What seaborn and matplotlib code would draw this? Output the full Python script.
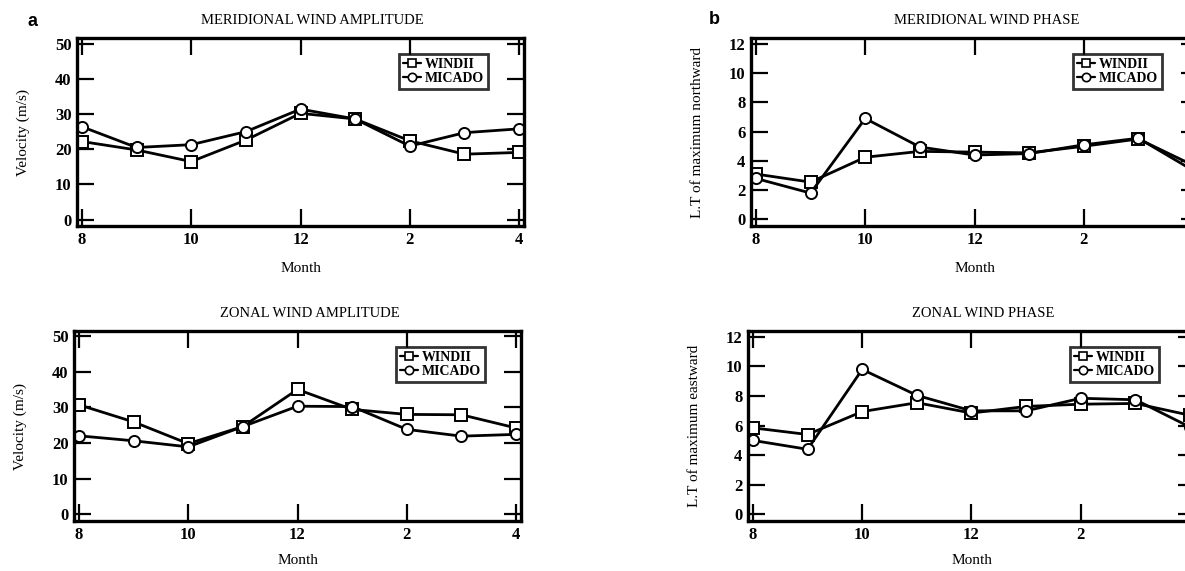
import numpy as np
import pandas as pd
import matplotlib
matplotlib.use("Agg")
import matplotlib.pyplot as plt
import seaborn as sns
from matplotlib.lines import Line2D

# ---------------- data ----------------
months = ["8", "9", "10", "11", "12", "1", "2", "3", "4"]
tick_labels = ["8", "10", "12", "2", "4"]
series_names = ["WINDII", "MICADO"]

mer_amp_windii = [22.2, 19.8, 16.5, 22.6, 30.2, 28.6, 22.4, 18.6, 19.1]
mer_amp_micado = [26.4, 20.5, 21.3, 25.0, 31.4, 28.6, 20.9, 24.7, 25.8]
zon_amp_windii = [30.7, 25.9, 19.8, 24.6, 35.0, 29.4, 28.0, 27.9, 24.2]
zon_amp_micado = [22.0, 20.6, 18.9, 24.6, 30.3, 30.2, 23.8, 21.9, 22.4]
mer_ph_windii = [3.1, 2.55, 4.25, 4.65, 4.6, 4.55, 5.0, 5.5, 3.7]
mer_ph_micado = [2.8, 1.8, 6.9, 4.95, 4.4, 4.5, 5.1, 5.55, 3.35]
zon_ph_windii = [5.85, 5.4, 6.95, 7.55, 6.85, 7.3, 7.45, 7.5, 6.7]
zon_ph_micado = [5.0, 4.4, 9.8, 8.05, 7.0, 7.0, 7.85, 7.75, 5.9]

amp_yticks = [0, 10, 20, 30, 40, 50]
ph_yticks = [0, 2, 4, 6, 8, 10, 12]

# ---------------- style ----------------
sns.set_theme(style="ticks")
plt.rcParams["font.family"] = ["Liberation Serif", "DejaVu Serif"]
plt.rcParams["axes.edgecolor"] = "black"
plt.rcParams["text.color"] = "black"
plt.rcParams["axes.labelcolor"] = "black"

W, H = 1185, 571
fig = plt.figure(figsize=(W / 100, H / 100), dpi=100)


def px_axes(left, top, right, bottom):
    return fig.add_axes([left / W, 1 - bottom / H, (right - left) / W, (bottom - top) / H])


panels = [
    dict(box=(77, 38, 524, 226), w=mer_amp_windii, m=mer_amp_micado,
         title="MERIDIONAL WIND AMPLITUDE", ylabel="Velocity (m/s)",
         yticks=amp_yticks, ylim=(-1.8, 51.6), month_y=262),
    dict(box=(751, 38, 1198, 226), w=mer_ph_windii, m=mer_ph_micado,
         title="MERIDIONAL WIND PHASE", ylabel="L.T of maximum northward",
         yticks=ph_yticks, ylim=(-0.45, 12.4), month_y=262),
    dict(box=(74, 331, 521, 521), w=zon_amp_windii, m=zon_amp_micado,
         title="ZONAL WIND AMPLITUDE", ylabel="Velocity (m/s)",
         yticks=amp_yticks, ylim=(-1.9, 51.4), month_y=554),
    dict(box=(748, 331, 1195, 521), w=zon_ph_windii, m=zon_ph_micado,
         title="ZONAL WIND PHASE", ylabel="L.T of maximum eastward",
         yticks=ph_yticks, ylim=(-0.45, 12.4), month_y=554),
]

marker_map = {"WINDII": "s", "MICADO": "o"}

for p in panels:
    ax = px_axes(*p["box"])
    idx = list(range(len(months)))
    df = pd.DataFrame({
        "idx": idx + idx,
        "value": list(p["w"]) + list(p["m"]),
        "series": ["WINDII"] * len(idx) + ["MICADO"] * len(idx),
    })
    sns.lineplot(data=df, x="idx", y="value", style="series",
                 style_order=series_names, markers=marker_map, dashes=False,
                 color="black", linewidth=2.0, markersize=8,
                 markeredgecolor="black", markeredgewidth=1.4,
                 legend=False, ax=ax)
    for ln in ax.lines:
        ln.set_markerfacecolor("white")
        ln.set_markeredgecolor("black")

    ax.set_xlim(-0.09, 8.09)
    ax.set_ylim(*p["ylim"])
    ax.set_xticks([0, 2, 4, 6, 8])
    ax.set_xticklabels(tick_labels)
    ax.set_yticks(p["yticks"])
    ax.set_yticklabels([str(v) for v in p["yticks"]])
    ax.tick_params(axis="both", direction="in", length=12, width=1.6,
                   top=True, right=True, labelsize=12, pad=4, colors="black")
    for lab in ax.get_xticklabels() + ax.get_yticklabels():
        lab.set_fontweight("bold")
    for sp in ax.spines.values():
        sp.set_visible(True)
        sp.set_linewidth(2.4)
        sp.set_color("black")

    top, bottom = p["box"][1], p["box"][3]
    ax.set_xlabel("Month", fontsize=11)
    ax.xaxis.set_label_coords(0.5, -(p["month_y"] - bottom) / (bottom - top))
    ax.set_ylabel(p["ylabel"], fontsize=11, labelpad=18)
    ax.text(0.527, 1.0 + 17 / 188, p["title"], transform=ax.transAxes,
            ha="center", va="center", fontsize=10.5)

    handles = [
        Line2D([], [], color="black", lw=1.6, marker="s", markersize=6,
               markerfacecolor="white", markeredgecolor="black", markeredgewidth=1.2),
        Line2D([], [], color="black", lw=1.6, marker="o", markersize=6,
               markerfacecolor="white", markeredgecolor="black", markeredgewidth=1.2),
    ]
    leg = ax.legend(handles, series_names, loc="upper right",
                    bbox_to_anchor=(0.92, 0.915), frameon=True, fancybox=False,
                    handlelength=1.3, handletextpad=0.3, borderpad=0.3,
                    labelspacing=0.05, borderaxespad=0,
                    prop={"family": "Liberation Serif", "weight": "bold", "size": 10})
    leg.get_frame().set_edgecolor("black")
    leg.get_frame().set_linewidth(2.0)
    leg.get_frame().set_facecolor("white")

fig.text(32 / W, 1 - 22 / H, "a", fontsize=13, fontweight="bold",
         family="Liberation Sans", ha="center", va="center")
fig.text(714 / W, 1 - 20 / H, "b", fontsize=13, fontweight="bold",
         family="Liberation Sans", ha="center", va="center")

fig.savefig("out.png", dpi=100, facecolor="white")
